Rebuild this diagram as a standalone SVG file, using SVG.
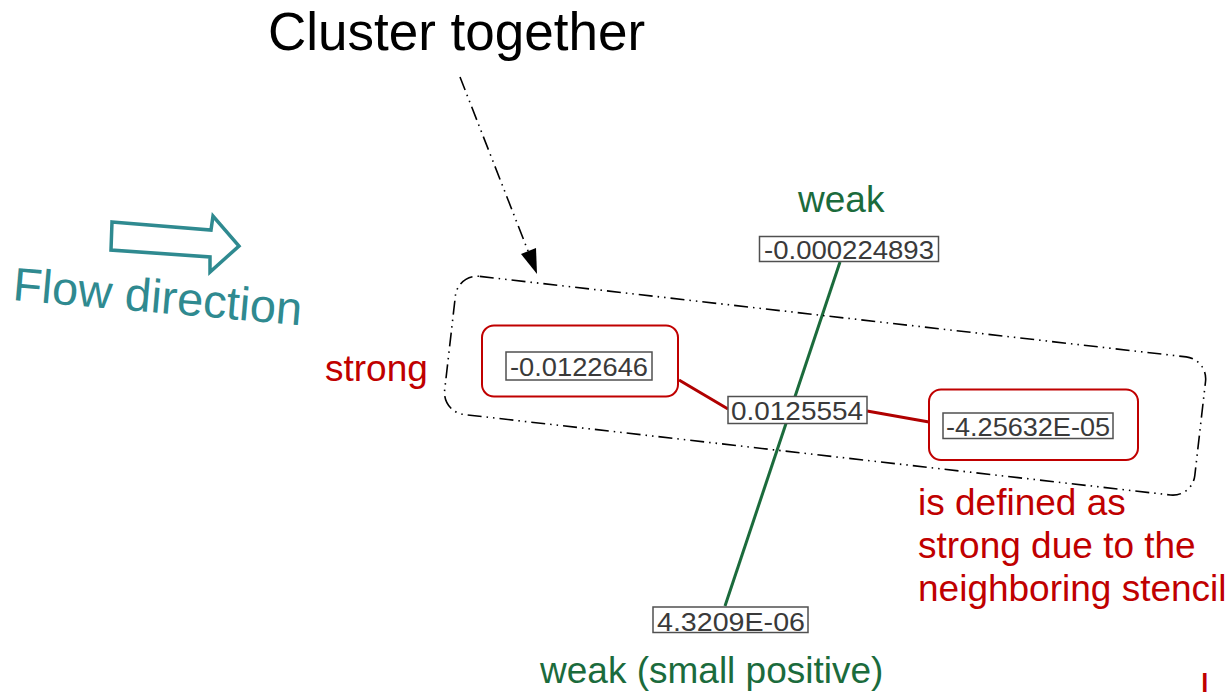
<svg xmlns="http://www.w3.org/2000/svg" width="1231" height="692" viewBox="0 0 1231 692">
<style>
  text { font-family: "Liberation Sans", Arial, sans-serif; }
  .title { font-size: 53px; fill: #000; }
  .green { font-size: 37px; fill: #1b6b3c; }
  .red { font-size: 37px; fill: #c00000; }
  .teal { font-size: 47px; fill: #2f8a90; }
  .num { font-size: 26px; fill: #3a3a3a; }
  .nbox { fill: #fff; stroke: #505050; stroke-width: 1.5; }
  .rbox { fill: none; stroke: #c00000; stroke-width: 2; }
  .gline { stroke: #1b6b3c; stroke-width: 3; fill: none; }
  .rline { stroke: #b00000; stroke-width: 3; fill: none; }
  .dd { fill: none; stroke: #000; stroke-width: 1.6; stroke-dasharray: 14 5 1.5 5 1.5 5; }
</style>
<rect width="1231" height="692" fill="#fff"/>

<g id="title">
  <text class="title" x="268" y="50">Cluster together</text>
</g>

<g id="flow">
  <polygon points="112,222 211,230 213,216 239,246 210,272 210,257 111,250" fill="none" stroke="#2f8a90" stroke-width="3.5" stroke-linejoin="miter"/>
  <text class="teal" x="12" y="300" transform="rotate(5 12 300)">Flow direction</text>
</g>

<g id="connectors">
  <line class="dd" x1="460" y1="77" x2="530" y2="256"/>
  <path d="M521,254 L537,274 L536,248 z" fill="#000"/>
  <line class="gline" x1="840" y1="262" x2="725" y2="606"/>
  <line class="rline" x1="679" y1="380" x2="728" y2="409"/>
  <line class="rline" x1="867" y1="411" x2="929" y2="422"/>
</g>

<g id="cluster">
  <rect class="dd" x="447.6" y="316.2" width="755" height="139" rx="22" transform="rotate(6.5 825.1 385.7)"/>
</g>

<g id="n-top">
  <rect class="nbox" x="759.5" y="236.5" width="179" height="25"/>
  <text class="num" x="764" y="258.5" textLength="170" lengthAdjust="spacingAndGlyphs">-0.000224893</text>
</g>

<g id="n-left">
  <rect class="rbox" x="482" y="325.5" width="196" height="71" rx="12"/>
  <rect class="nbox" x="506" y="352" width="146" height="28"/>
  <text class="num" x="510" y="375.5" textLength="138" lengthAdjust="spacingAndGlyphs">-0.0122646</text>
</g>

<g id="n-center">
  <rect class="nbox" x="728" y="396.5" width="139" height="27"/>
  <text class="num" x="731" y="419.5" textLength="132" lengthAdjust="spacingAndGlyphs">0.0125554</text>
</g>

<g id="n-right">
  <rect class="rbox" x="929" y="389.5" width="209" height="70.5" rx="12"/>
  <rect class="nbox" x="943" y="413" width="170" height="25.5"/>
  <text class="num" x="946" y="435.5" textLength="164" lengthAdjust="spacingAndGlyphs">-4.25632E-05</text>
</g>

<g id="n-bottom">
  <rect class="nbox" x="653" y="607" width="155" height="25.5"/>
  <text class="num" x="657" y="630.5" textLength="148" lengthAdjust="spacingAndGlyphs">4.3209E-06</text>
</g>

<g id="labels">
  <text class="green" x="798" y="212">weak</text>
  <text class="red" x="325" y="381">strong</text>
  <text class="red" x="918" y="515">is defined as</text>
  <text class="red" x="918" y="558">strong due to the</text>
  <text class="red" x="918" y="601">neighboring stencil</text>
  <text class="green" x="540" y="683">weak (small positive)</text>
  <text class="red" x="1200" y="699" font-size="40">L</text>
</g>
</svg>
